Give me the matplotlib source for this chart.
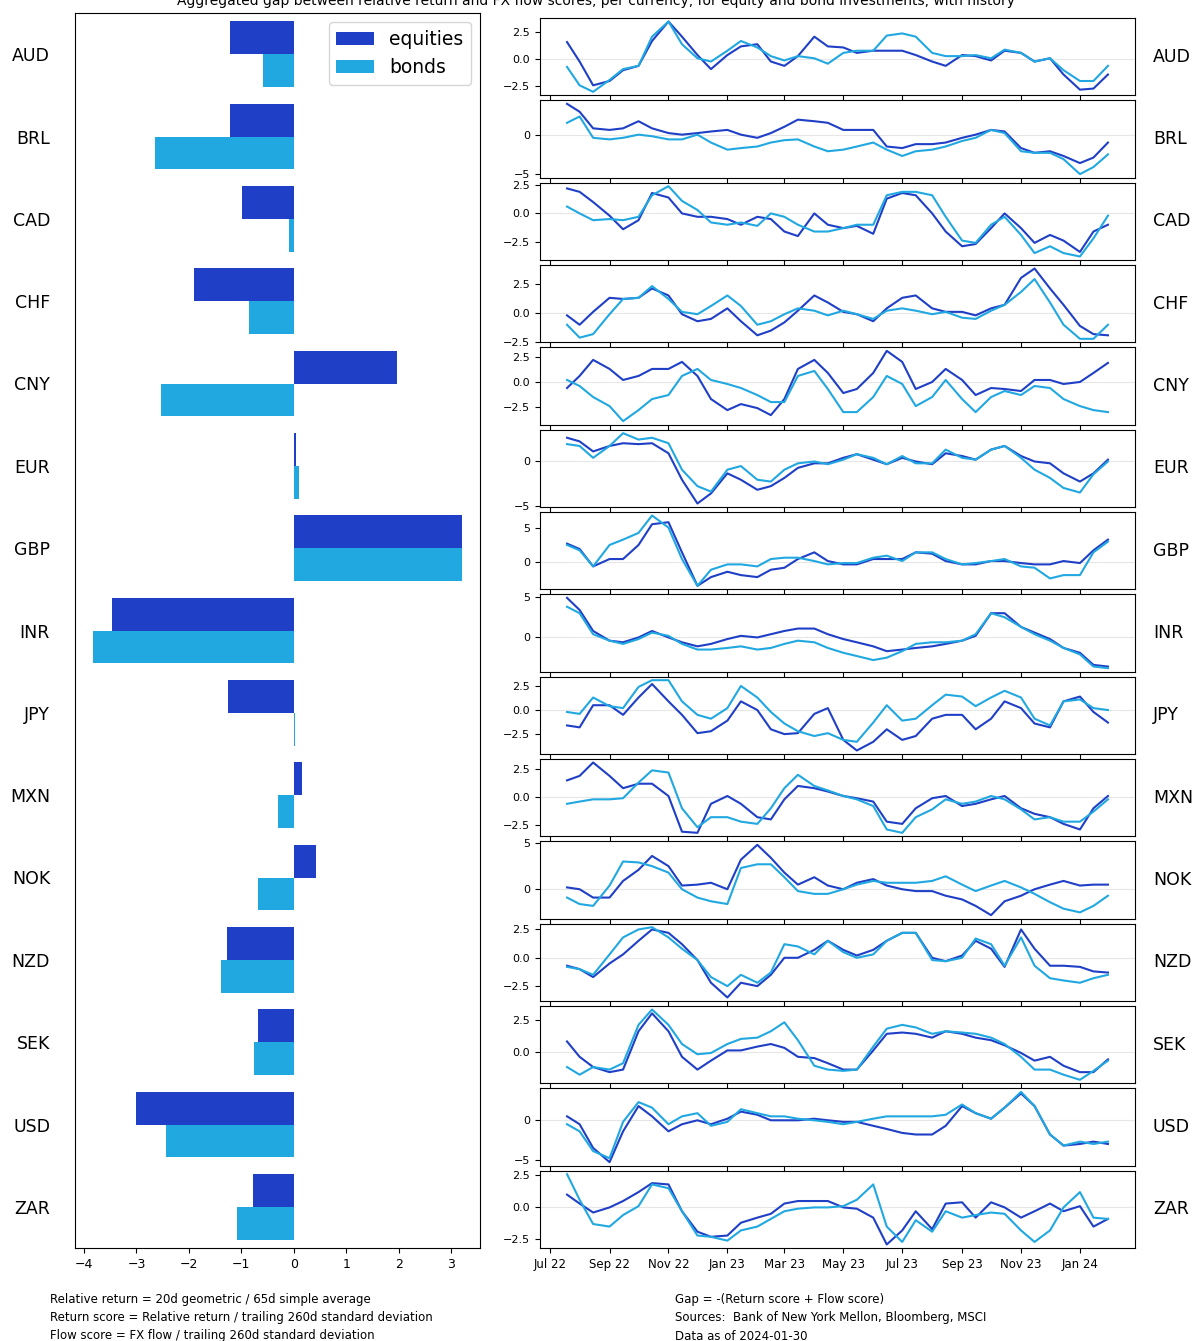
import matplotlib
matplotlib.use('Agg')
import matplotlib.pyplot as plt
import matplotlib.dates as mdates
import numpy as np
import pandas as pd

# ---------------- data ----------------
currencies = ['AUD', 'BRL', 'CAD', 'CHF', 'CNY', 'EUR', 'GBP', 'INR', 'JPY',
              'MXN', 'NOK', 'NZD', 'SEK', 'USD', 'ZAR']
equities_gap = [-1.22, -1.22, -0.98, -1.91, 1.97, 0.04, 3.2, -3.46, -1.26,
                0.15, 0.42, -1.28, -0.69, -3.0, -0.78]
bonds_gap = [-0.59, -2.64, -0.1, -0.86, -2.54, 0.1, 3.2, -3.82, 0.02,
             -0.3, -0.69, -1.38, -0.76, -2.43, -1.09]

date_labels = ['2022-07-19', '2022-08-01', '2022-08-15', '2022-09-01', '2022-09-15',
               '2022-10-01', '2022-10-15', '2022-11-01', '2022-11-15', '2022-12-01',
               '2022-12-15', '2023-01-01', '2023-01-15', '2023-02-01', '2023-02-15',
               '2023-03-01', '2023-03-15', '2023-04-01', '2023-04-15', '2023-05-01',
               '2023-05-15', '2023-06-01', '2023-06-15', '2023-07-01', '2023-07-15',
               '2023-08-01', '2023-08-15', '2023-09-01', '2023-09-15', '2023-10-01',
               '2023-10-15', '2023-11-01', '2023-11-15', '2023-12-01', '2023-12-15',
               '2024-01-01', '2024-01-15', '2024-01-30']

AUD_eq = [1.6, -0.2, -2.4, -2.0, -1.0, -0.6, 1.7, 3.5, 2.1, 0.4, -0.9, 0.4, 1.2, 1.4, -0.2, -0.6, 0.3, 2.1, 1.2, 1.1,
          0.6, 0.8, 0.8, 0.8, 0.4, -0.2, -0.6, 0.4, 0.3, -0.1, 0.8, 0.6, -0.2, 0.1, -1.4, -2.8, -2.7, -1.4]
AUD_bd = [-0.7, -2.4, -3.0, -1.9, -0.9, -0.6, 2.1, 3.5, 1.4, 0.1, -0.2, 0.8, 1.7, 1.1, 0.3, -0.1, 0.3, 0.1, -0.4, 0.6,
          0.8, 0.8, 2.2, 2.4, 2.1, 0.6, 0.3, 0.3, 0.4, 0.1, 0.9, 0.6, -0.2, 0.1, -1.0, -2.0, -2.0, -0.6]
BRL_eq = [3.9, 2.9, 0.8, 0.6, 0.8, 1.7, 0.8, 0.2, 0.0, 0.2, 0.4, 0.6, 0.0, -0.4, 0.2, 1.0, 1.9, 1.7, 1.5, 0.6,
          0.6, 0.6, -1.5, -1.7, -1.2, -1.2, -1.0, -0.4, 0.0, 0.6, 0.4, -1.7, -2.3, -2.1, -2.7, -3.6, -2.9, -1.0]
BRL_bd = [1.5, 2.3, -0.4, -0.6, -0.4, 0.0, -0.2, -0.6, -0.6, 0.0, -1.0, -1.9, -1.7, -1.5, -1.0, -0.7, -0.6, -1.5, -2.1, -1.9,
          -1.5, -1.0, -1.9, -2.7, -2.1, -1.9, -1.5, -0.8, -0.4, 0.6, 0.2, -2.1, -2.3, -2.3, -3.1, -5.0, -4.1, -2.5]
CAD_eq = [2.2, 1.9, 1.0, -0.2, -1.4, -0.6, 1.8, 1.4, 0.0, -0.3, -0.3, -0.5, -1.0, -0.3, -0.5, -1.6, -2.0, 0.0, -1.0, -1.3,
          -1.1, -1.8, 1.3, 1.8, 1.6, 0.0, -1.6, -2.9, -2.7, -1.3, 0.0, -1.3, -2.6, -1.9, -2.4, -3.4, -1.6, -1.0]
CAD_bd = [0.6, 0.0, -0.6, -0.5, -0.6, -0.3, 1.6, 2.4, 1.1, 0.3, -0.8, -1.0, -0.8, -1.1, 0.0, -0.3, -1.0, -1.6, -1.6, -1.3,
          -1.0, -1.0, 1.6, 1.9, 1.9, 1.6, -0.3, -2.4, -2.6, -1.0, -0.3, -1.9, -3.5, -2.9, -3.5, -3.8, -2.2, -0.2]
CHF_eq = [-0.2, -1.0, 0.1, 1.3, 1.2, 1.3, 2.1, 1.5, -0.1, -0.7, -0.5, 0.4, -0.7, -1.9, -1.5, -0.8, 0.2, 1.5, 0.9, 0.1,
          -0.1, -0.7, 0.4, 1.3, 1.5, 0.4, 0.1, 0.1, -0.2, 0.4, 0.7, 3.0, 3.8, 2.1, 0.7, -1.1, -1.8, -1.9]
CHF_bd = [-1.0, -2.1, -1.8, -0.1, 1.2, 1.3, 2.3, 1.2, 0.1, -0.1, 0.6, 1.5, 0.6, -1.0, -0.7, -0.1, 0.4, 0.2, -0.2, 0.2,
          -0.1, -0.5, 0.2, 0.4, 0.2, -0.1, 0.1, -0.4, -0.5, 0.2, 0.7, 1.8, 2.9, 0.9, -1.0, -2.2, -2.2, -1.0]
CNY_eq = [-0.6, 0.6, 2.2, 1.3, 0.2, 0.6, 1.3, 1.3, 2.0, 0.6, -1.7, -2.8, -2.2, -2.6, -3.3, -1.7, 1.3, 2.2, 0.9, -1.1,
          -0.7, 0.9, 3.1, 2.0, -0.7, 0.0, 1.3, 0.2, -1.3, -0.6, -0.7, -0.9, 0.2, 0.2, -0.2, 0.0, 0.9, 1.9]
CNY_bd = [0.2, -0.4, -1.5, -2.4, -3.9, -2.8, -1.7, -1.3, 0.6, 1.3, 0.2, -0.2, -0.6, -1.3, -2.0, -2.0, 0.6, 1.1, -0.7, -3.0,
          -3.0, -1.5, 0.6, -0.2, -2.4, -1.5, 0.2, -1.7, -3.0, -1.5, -0.9, -1.3, -0.4, -0.6, -1.7, -2.4, -2.8, -3.0]
EUR_eq = [2.5, 2.1, 1.0, 1.6, 1.9, 1.8, 1.9, 0.8, -2.1, -4.7, -3.6, -1.4, -2.1, -3.2, -2.8, -1.9, -0.8, -0.3, -0.3, 0.3,
          0.7, 0.1, -0.4, 0.3, -0.1, -0.4, 0.8, 0.5, 0.1, 1.2, 1.6, 0.5, -0.1, -0.3, -1.4, -2.3, -1.4, 0.1]
EUR_bd = [1.8, 1.6, 0.3, 1.6, 3.0, 2.3, 2.5, 1.9, -1.0, -2.8, -3.4, -1.0, -0.6, -2.1, -2.3, -1.0, -0.3, -0.1, -0.4, 0.1,
          0.7, 0.3, -0.4, 0.5, -0.3, -0.3, 1.2, 0.3, 0.1, 1.2, 1.6, 0.3, -1.0, -1.9, -3.0, -3.5, -1.5, -0.1]
GBP_eq = [2.7, 1.9, -0.7, 0.4, 0.4, 2.5, 5.6, 5.9, 1.4, -3.6, -2.3, -1.5, -2.0, -2.3, -1.2, -0.9, 0.4, 1.4, 0.1, -0.4,
          -0.4, 0.4, 0.4, 0.4, 1.4, 1.2, 0.1, -0.4, -0.4, 0.1, 0.1, -0.2, -0.4, -0.4, 0.1, -0.2, 1.7, 3.3]
GBP_bd = [2.5, 1.7, -0.7, 2.5, 3.3, 4.3, 6.9, 5.1, 0.4, -3.6, -1.2, -0.4, -0.4, -0.7, 0.4, 0.6, 0.6, 0.1, -0.4, -0.2,
          -0.2, 0.6, 0.9, 0.1, 1.4, 1.4, 0.4, -0.4, -0.2, 0.1, 0.4, -0.7, -0.9, -2.5, -2.0, -2.0, 1.4, 3.0]
INR_eq = [4.9, 3.4, 0.8, -0.4, -0.6, 0.0, 0.8, 0.0, -0.6, -1.1, -0.8, -0.2, 0.2, 0.0, 0.4, 0.8, 1.1, 1.1, 0.4, -0.2,
          -0.6, -1.1, -1.7, -1.5, -1.3, -1.1, -0.8, -0.4, 0.2, 3.0, 3.0, 1.3, 0.6, -0.2, -1.3, -1.9, -3.4, -3.6]
INR_bd = [3.8, 3.0, 0.4, -0.4, -0.8, -0.2, 0.6, 0.2, -0.8, -1.5, -1.5, -1.3, -1.1, -1.5, -1.3, -0.8, -0.4, -0.6, -1.3, -1.9,
          -2.3, -2.8, -2.5, -1.7, -0.8, -0.6, -0.6, -0.4, 0.4, 3.0, 2.5, 1.3, 0.4, -0.4, -1.3, -2.1, -3.6, -3.8]
JPY_eq = [-1.6, -1.8, 0.5, 0.5, -0.5, 1.3, 2.7, 0.9, -0.5, -2.4, -2.2, -1.1, 0.9, 0.0, -2.0, -2.5, -2.4, -0.4, 0.2, -3.1,
          -4.2, -3.3, -2.0, -3.1, -2.7, -0.9, -0.5, -0.5, -2.0, -0.9, 0.9, 0.2, -1.4, -1.8, 0.9, 1.4, -0.2, -1.3]
JPY_bd = [-0.2, -0.4, 1.3, 0.4, 0.2, 2.4, 3.1, 3.1, 0.9, -0.5, -0.9, 0.2, 2.5, 1.3, -0.2, -1.4, -2.2, -2.7, -2.4, -3.1,
          -3.3, -1.3, 0.5, -1.1, -0.9, 0.5, 1.6, 1.4, 0.4, 1.3, 2.0, 1.3, -0.9, -1.6, 0.9, 1.1, 0.2, 0.0]
MXN_eq = [1.5, 1.9, 3.1, 1.9, 0.8, 1.2, 1.2, 0.1, -3.1, -3.2, -0.6, 0.1, -0.6, -1.8, -2.0, -0.2, 1.0, 0.8, 0.5, 0.1,
          -0.1, -0.4, -2.2, -2.4, -1.0, -0.1, 0.1, -0.8, -0.6, -0.2, 0.1, -1.0, -1.5, -1.8, -2.4, -2.9, -1.0, 0.1]
MXN_bd = [-0.6, -0.4, -0.2, -0.2, -0.1, 1.3, 2.4, 2.2, -1.0, -2.7, -1.8, -1.8, -2.2, -2.4, -1.0, 0.8, 2.0, 1.0, 0.6, 0.1,
          -0.2, -0.8, -2.9, -3.2, -1.8, -1.1, -0.2, -0.6, -0.4, 0.1, -0.2, -1.1, -2.0, -1.8, -2.2, -2.2, -1.3, -0.2]
NOK_eq = [0.2, 0.0, -0.9, -0.9, 0.9, 2.1, 3.6, 2.5, 0.4, 0.5, 0.7, 0.0, 3.2, 4.8, 3.4, 1.8, 0.5, 1.3, 0.4, 0.0,
          0.7, 1.1, 0.4, 0.0, -0.2, -0.2, -0.7, -1.1, -1.8, -2.8, -1.3, -0.7, 0.0, 0.5, 0.9, 0.4, 0.5, 0.5]
NOK_bd = [-0.9, -1.6, -1.8, 0.4, 3.0, 2.9, 2.5, 1.8, 0.0, -0.9, -1.3, -1.6, 2.3, 2.7, 2.7, 1.3, -0.2, -0.5, -0.5, 0.0,
          0.5, 0.9, 0.7, 0.7, 0.7, 0.9, 1.4, 0.5, -0.2, 0.4, 0.9, 0.2, -0.5, -1.4, -2.1, -2.5, -1.8, -0.7]
NZD_eq = [-0.7, -1.0, -1.7, -0.5, 0.3, 1.5, 2.5, 2.2, 1.2, -0.2, -2.2, -3.5, -2.2, -2.5, -1.5, 0.0, 0.0, 0.7, 1.5, 0.7,
          0.2, 0.7, 1.5, 2.2, 2.2, 0.0, -0.3, 0.2, 1.5, 0.8, -0.8, 2.5, 0.8, -0.7, -0.7, -0.8, -1.2, -1.3]
NZD_bd = [-0.8, -1.0, -1.5, 0.3, 1.8, 2.5, 2.7, 1.8, 0.8, -0.2, -1.7, -2.5, -1.5, -2.2, -1.3, 1.2, 1.0, 0.3, 1.5, 0.5,
          0.0, 0.3, 1.5, 2.2, 2.2, -0.2, -0.3, 0.0, 1.7, 1.2, -0.7, 1.8, -0.7, -1.8, -2.0, -2.2, -1.8, -1.5]
SEK_eq = [0.8, -0.4, -1.2, -1.6, -1.4, 1.6, 3.0, 1.6, -0.4, -1.4, -0.7, 0.1, 0.1, 0.4, 0.6, 0.3, -0.4, -0.5, -0.9, -1.4,
          -1.4, 0.1, 1.4, 1.5, 1.4, 1.1, 1.6, 1.4, 1.1, 0.9, 0.5, -0.1, -0.7, -0.4, -1.1, -1.6, -1.6, -0.6]
SEK_bd = [-1.2, -1.8, -1.2, -1.4, -0.9, 2.1, 3.3, 2.1, 0.6, -0.2, -0.1, 0.6, 1.0, 1.1, 1.6, 2.3, 0.9, -1.1, -1.4, -1.5,
          -1.4, 0.4, 1.8, 2.1, 1.9, 1.4, 1.6, 1.5, 1.4, 1.1, 0.6, -0.4, -1.4, -1.4, -1.8, -2.2, -1.5, -0.7]
USD_eq = [0.5, -0.5, -3.5, -5.3, -1.4, 1.8, 0.5, -1.4, -0.5, 0.0, -0.5, 0.2, 1.1, 0.7, 0.0, 0.0, 0.0, 0.2, 0.0, -0.2,
          -0.2, -0.7, -1.1, -1.6, -1.8, -1.8, -0.7, 1.8, 0.9, 0.2, 1.6, 3.4, 1.8, -1.8, -3.2, -3.0, -2.7, -3.0]
USD_bd = [-0.5, -1.4, -3.9, -4.8, -0.2, 2.3, 1.6, -0.5, 0.5, 0.9, -0.7, -0.2, 1.4, 0.9, 0.5, 0.5, 0.2, 0.0, -0.2, -0.5,
          -0.2, 0.2, 0.5, 0.5, 0.5, 0.5, 0.7, 2.0, 0.9, 0.2, 1.6, 3.6, 1.8, -1.8, -3.2, -2.7, -3.0, -2.7]
ZAR_eq = [1.0, 0.3, -0.4, 0.0, 0.5, 1.2, 1.9, 1.8, -0.3, -1.9, -2.3, -2.2, -1.2, -0.8, -0.5, 0.3, 0.5, 0.5, 0.5, 0.0,
          -0.1, -0.8, -2.9, -1.8, -0.3, -1.7, 0.3, 0.4, -0.8, 0.4, 0.0, -0.8, -0.3, 0.3, -0.3, 0.1, -1.5, -0.9]
ZAR_bd = [2.6, 0.6, -1.3, -1.5, -0.6, 0.1, 1.8, 1.5, -0.3, -2.2, -2.3, -2.6, -1.8, -1.5, -0.9, -0.3, -0.1, 0.0, 0.0, 0.1,
          0.6, 1.8, -1.5, -2.7, -1.0, -1.9, -0.3, -0.8, -0.6, -0.4, -0.5, -1.8, -2.7, -1.8, 0.0, 1.2, -0.8, -0.9]

series_eq = [AUD_eq, BRL_eq, CAD_eq, CHF_eq, CNY_eq, EUR_eq, GBP_eq, INR_eq, JPY_eq,
             MXN_eq, NOK_eq, NZD_eq, SEK_eq, USD_eq, ZAR_eq]
series_bd = [AUD_bd, BRL_bd, CAD_bd, CHF_bd, CNY_bd, EUR_bd, GBP_bd, INR_bd, JPY_bd,
             MXN_bd, NOK_bd, NZD_bd, SEK_bd, USD_bd, ZAR_bd]

notes_left = ['Relative return = 20d geometric / 65d simple average',
              'Return score = Relative return / trailing 260d standard deviation',
              'Flow score = FX flow / trailing 260d standard deviation']
notes_right = ['Gap = -(Return score + Flow score)',
               'Sources:  Bank of New York Mellon, Bloomberg, MSCI',
               'Data as of 2024-01-30']
title = ('Aggregated gap between relative return and FX flow scores, per currency, '
         'for equity and bond investments, with history')

# ---------------- style ----------------
C_EQ = '#1f3fc6'
C_BD = '#21a8e0'
W, H = 1192, 1341


def px(x0, y0, x1, y1):
    return [x0 / W, 1 - y1 / H, (x1 - x0) / W, (y1 - y0) / H]


fig = plt.figure(figsize=(W / 100, H / 100), dpi=100)
fig.patch.set_facecolor('white')

# ---------------- left bar chart ----------------
axL = fig.add_axes(px(75, 13, 480, 1248))
ypos = np.arange(len(currencies))
axL.barh(ypos - 0.2, equities_gap, height=0.4, color=C_EQ, label='equities')
axL.barh(ypos + 0.2, bonds_gap, height=0.4, color=C_BD, label='bonds')
axL.set_ylim(len(currencies) - 0.5, -0.5)
axL.set_yticks(ypos)
axL.set_yticklabels(currencies, fontsize=12.5)
axL.tick_params(axis='y', length=0, pad=18)
axL.tick_params(axis='x', labelsize=9)
axL.legend(loc='upper right', fontsize=13.5)

# ---------------- right small multiples ----------------
dates = pd.to_datetime(date_labels)
n = len(currencies)
top, bottom, gap = 18, 1248, 5
h = (bottom - top - (n - 1) * gap) / n
axes = []
for i, cur in enumerate(currencies):
    y0 = top + i * (h + gap)
    ax = fig.add_axes(px(540, y0, 1135, y0 + h), sharex=axes[0] if axes else None)
    axes.append(ax)
    ax.axhline(0, color='#e6e6e6', lw=0.8, zorder=0)
    ax.plot(dates, series_eq[i], color=C_EQ, lw=1.5)
    ax.plot(dates, series_bd[i], color=C_BD, lw=1.5)
    ax.tick_params(axis='y', labelsize=8)
    ax.text(1.03, 0.5, cur, transform=ax.transAxes, va='center', ha='left', fontsize=12.5)
    if i < n - 1:
        ax.tick_params(axis='x', labelbottom=False)

axes[-1].xaxis.set_major_locator(mdates.MonthLocator(bymonth=[1, 3, 5, 7, 9, 11]))
axes[-1].xaxis.set_major_formatter(mdates.DateFormatter('%b %y'))
axes[-1].tick_params(axis='x', labelsize=8.5)

# ---------------- texts ----------------
fig.text(0.5, 1 - 1 / H, title, ha='center', va='center', fontsize=10)
for k, line in enumerate(notes_left):
    fig.text(50 / W, 1 - (1300 + 18 * k) / H, line, ha='left', va='center', fontsize=8.5)
for k, line in enumerate(notes_right):
    fig.text(675 / W, 1 - (1300 + 18 * k) / H, line, ha='left', va='center', fontsize=8.5)

fig.savefig('out.png', dpi=100)
